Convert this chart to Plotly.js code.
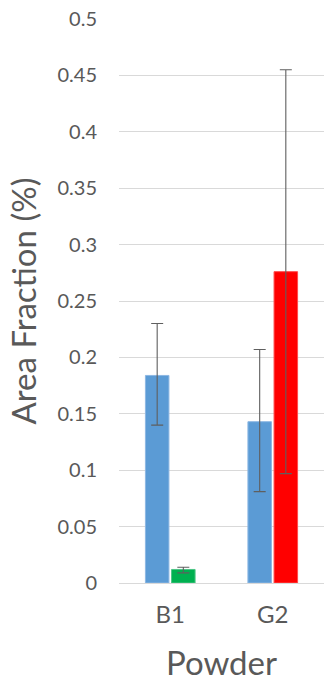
<!DOCTYPE html>
<html>
<head>
<meta charset="utf-8">
<script src="https://cdn.plot.ly/plotly-3.0.1.min.js"></script>
<style>html,body{margin:0;padding:0;background:#fff;}#chart{width:326px;height:683px;}</style>
</head>
<body>
<div id="chart"></div>
<script>
var categories = ['B1', 'G2'];
var series1Values = [0.184, 0.143];
var series1Upper = [0.230, 0.207];
var series1Lower = [0.140, 0.081];
var series2Values = [0.012, 0.276];
var series2Upper = [0.014, 0.455];
var series2Lower = [0.009, 0.097];
var yTickValues = [0, 0.05, 0.1, 0.15, 0.2, 0.25, 0.3, 0.35, 0.4, 0.45, 0.5];
var yTickLabels = ['0', '0.05', '0.1', '0.15', '0.2', '0.25', '0.3', '0.35', '0.4', '0.45', '0.5'];

function diff(a, b) { return a.map(function (v, i) { return v - b[i]; }); }

var errStyle = {color: '#5f5f5f', thickness: 1.1, width: 6};

var trace1 = {
  type: 'bar', x: categories, y: series1Values,
  marker: {color: '#5B9BD5', line: {color: '#8DB7E3', width: 1}},
  error_y: Object.assign({type: 'data', symmetric: false,
    array: diff(series1Upper, series1Values), arrayminus: diff(series1Values, series1Lower)}, errStyle),
  hoverinfo: 'none'
};
var trace2 = {
  type: 'bar', x: categories, y: series2Values,
  marker: {color: ['#00B050', '#FF0000'], line: {color: ['#4CC585', '#FF4D4D'], width: 1}},
  error_y: Object.assign({type: 'data', symmetric: false,
    array: diff(series2Upper, series2Values), arrayminus: diff(series2Values, series2Lower)}, errStyle),
  hoverinfo: 'none'
};

var font = 'Lato, "Open Sans", sans-serif';
var layout = {
  width: 326, height: 683,
  margin: {l: 119, r: 2, t: 19, b: 100},
  paper_bgcolor: '#fff', plot_bgcolor: '#fff',
  showlegend: false,
  barmode: 'group', bargap: 0.49, bargroupgap: 0.1,
  font: {family: font, color: '#595959'},
  xaxis: {
    type: 'category', showgrid: false, zeroline: false, showline: false,
    ticks: '', tickfont: {size: 24, color: '#595959'},
    ticklabelstandoff: 15,
    title: {text: 'Powder', font: {size: 33, color: '#595959'}, standoff: 24},
    automargin: false, fixedrange: true
  },
  yaxis: {
    range: [0, 0.5], tickmode: 'array', tickvals: yTickValues, ticktext: yTickLabels,
    showgrid: true, gridcolor: '#D9D9D9', gridwidth: 1,
    zeroline: true, zerolinecolor: '#D9D9D9', zerolinewidth: 1,
    showline: false, ticks: '', tickfont: {size: 20, color: '#595959'},
    ticklabelstandoff: 21,
    title: {text: 'Area Fraction (%)', font: {size: 33, color: '#595959'}, standoff: 10},
    automargin: false, fixedrange: true
  }
};

Plotly.newPlot('chart', [trace1, trace2], layout, {displayModeBar: false, staticPlot: true});
</script>
</body>
</html>
